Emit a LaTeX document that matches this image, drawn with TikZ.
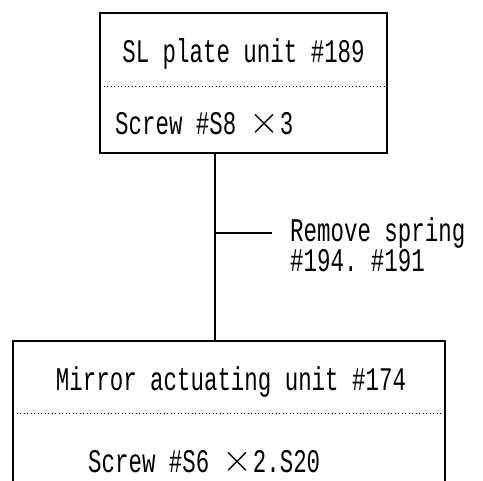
\documentclass[tikz,border=0pt]{standalone}
\usepackage{fontspec}
\setmonofont[FakeStretch=0.68]{Liberation Mono}
\newcommand{\fwx}{\raisebox{1.2pt}{\resizebox{30pt}{!}{$\times$}}}
\begin{document}
\begin{tikzpicture}[x=1pt,y=1pt,font=\ttfamily\fontsize{33}{36}\selectfont]
\useasboundingbox (0,0) rectangle (483,481);

\coordinate (slnw) at (100,468);
\coordinate (slse) at (387,328);
\coordinate (sldl) at (100,395);
\coordinate (sldr) at (387,395);
\coordinate (mrnw) at (13,140);
\coordinate (mrne) at (445,140);
\coordinate (mrsw) at (13,0);
\coordinate (mrse) at (445,0);
\coordinate (mrdl) at (13,68);
\coordinate (mrdr) at (445,68);
\coordinate (c1) at (215,328);
\coordinate (c2) at (215,140);
\coordinate (br) at (215,248);
\coordinate (brend) at (272,248);

% boxes
\draw[line width=1.8pt] (slnw) rectangle (slse);
\draw[line width=1.8pt] (mrsw) -- (mrnw) -- (mrne) -- (mrse);
\draw[dash pattern=on 1pt off 2.5pt] (sldl) -- (sldr);
\draw[dash pattern=on 1pt off 2.5pt] (mrdl) -- (mrdr);

% line
\draw[line width=1.1pt] (c1) -- (c2);
\draw[line width=1.1pt] (br) -- (brend);

\node (sl) at (243.5,427) {SL plate unit \#189};
\node[anchor=west,inner sep=0pt] (slscr) at (115,357) {Screw \#S8 \fwx3};
\node (mr) at (231,99) {Mirror actuating unit \#174};
\node[anchor=west,inner sep=0pt] (mrscr) at (88,19) {Screw \#S6 \fwx2.S20};
\node[anchor=west,inner sep=0pt,align=left,font=\ttfamily\fontsize{33}{27}\selectfont] (rm) at (290,236) {Remove spring\\\#194. \#191};
\end{tikzpicture}
\end{document}
